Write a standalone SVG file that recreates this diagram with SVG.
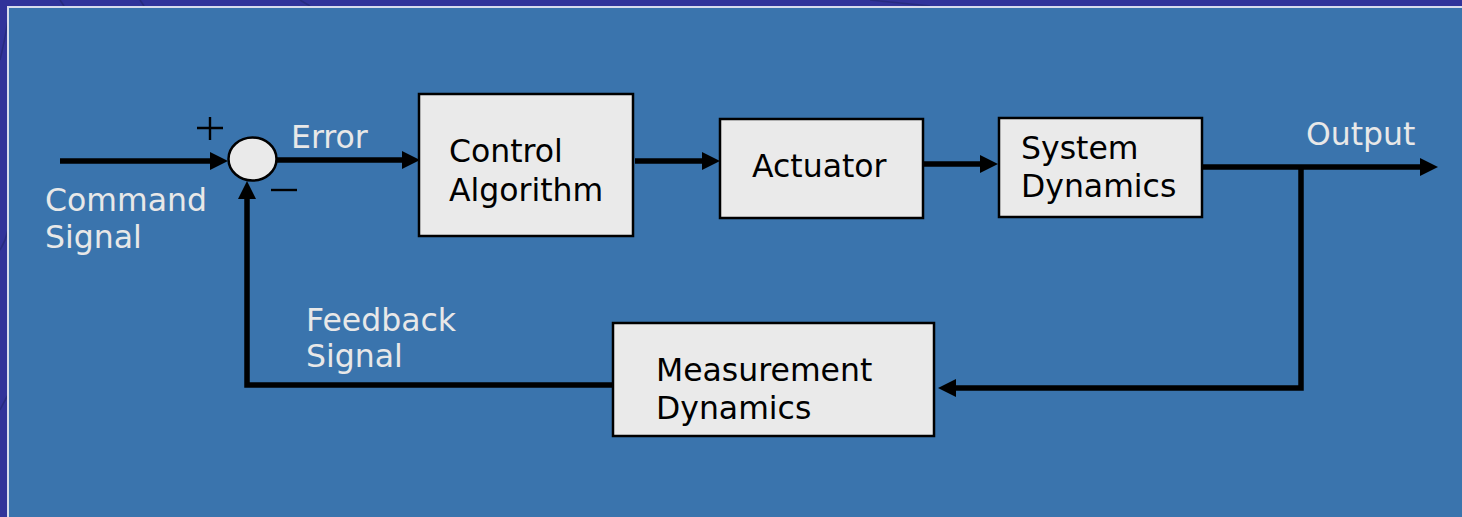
<svg xmlns="http://www.w3.org/2000/svg" width="1462" height="517" viewBox="0 0 1462 517">
  <defs>
    <style>
      .box { fill: #EAEAEA; stroke: #000; stroke-width: 2.5; }
      .lbl { font-family: "DejaVu Sans", Verdana, sans-serif; font-size: 31.5px; fill: #000; }
      .wlbl { font-family: "DejaVu Sans", Verdana, sans-serif; font-size: 31.5px; fill: #E8E8E8; }
      .wire { fill: none; stroke: #000; stroke-width: 5.5; stroke-linejoin: miter; }
      .sign { stroke: #000; stroke-width: 2.4; fill: none; }
    </style>
    <marker id="ah" viewBox="0 0 18 18" refX="2" refY="9" markerWidth="18" markerHeight="18" markerUnits="userSpaceOnUse" orient="auto">
      <path d="M0,0 L18,9 L0,18 z" fill="#000"/>
    </marker>
  </defs>

  <!-- background -->
  <rect x="0" y="0" width="1462" height="517" fill="#31339A"/>
  <g stroke="#262A7A" stroke-width="1.5" fill="none" opacity="0.8">
    <path d="M0,60 Q5,40 8,20"/>
    <path d="M0,250 Q6,240 8,230"/>
    <path d="M0,410 Q5,400 8,395"/>
    <path d="M60,0 Q62,3 64,6"/>
    <path d="M140,0 Q142,3 144,6"/>
    <path d="M300,0 Q305,3 310,6"/>
    <path d="M870,0 Q900,3 930,6"/>
  </g>
  <rect x="7" y="6" width="1455" height="511" fill="#D8DCEC"/>
  <rect x="9" y="8" width="1453" height="509" fill="#3A74AD"/>

  <!-- connectors -->
  <g id="connectors">
    <path class="wire" d="M60,161 H212" marker-end="url(#ah)"/>
    <path class="wire" d="M277,160 H404" marker-end="url(#ah)"/>
    <path class="wire" d="M635,161 H704" marker-end="url(#ah)"/>
    <path class="wire" d="M923,164 H982" marker-end="url(#ah)"/>
    <path class="wire" d="M1200,167 H1422" marker-end="url(#ah)"/>
    <path class="wire" d="M1301,167 V388 H954" marker-end="url(#ah)"/>
    <path class="wire" d="M613,385 H247 V197" marker-end="url(#ah)"/>
  </g>

  <!-- summing junction -->
  <g id="sum">
    <ellipse cx="252.5" cy="159" rx="24" ry="21.5" fill="#EAEAEA" stroke="#000" stroke-width="2.5"/>
    <path class="sign" d="M197,128 H223 M210,117 V140"/>
    <path class="sign" d="M271,190 H297"/>
  </g>

  <g id="command-label">
    <text class="wlbl" x="45" y="211">Command</text>
    <text class="wlbl" x="45" y="248">Signal</text>
  </g>

  <g id="error-label">
    <text class="wlbl" x="291" y="148">Error</text>
  </g>

  <g id="output-label">
    <text class="wlbl" x="1306" y="145">Output</text>
  </g>

  <g id="feedback-label">
    <text class="wlbl" x="306" y="331">Feedback</text>
    <text class="wlbl" x="306" y="367">Signal</text>
  </g>

  <g id="control-algorithm">
    <rect class="box" x="419" y="94" width="214" height="142"/>
    <text class="lbl" x="449" y="162">Control</text>
    <text class="lbl" x="449" y="201">Algorithm</text>
  </g>

  <g id="actuator">
    <rect class="box" x="720" y="119" width="203" height="99"/>
    <text class="lbl" x="752" y="177">Actuator</text>
  </g>

  <g id="system-dynamics">
    <rect class="box" x="999" y="118" width="203" height="99"/>
    <text class="lbl" x="1021" y="159">System</text>
    <text class="lbl" x="1021" y="197">Dynamics</text>
  </g>

  <g id="measurement-dynamics">
    <rect class="box" x="613" y="323" width="321" height="113"/>
    <text class="lbl" x="656" y="381">Measurement</text>
    <text class="lbl" x="656" y="419">Dynamics</text>
  </g>
</svg>
